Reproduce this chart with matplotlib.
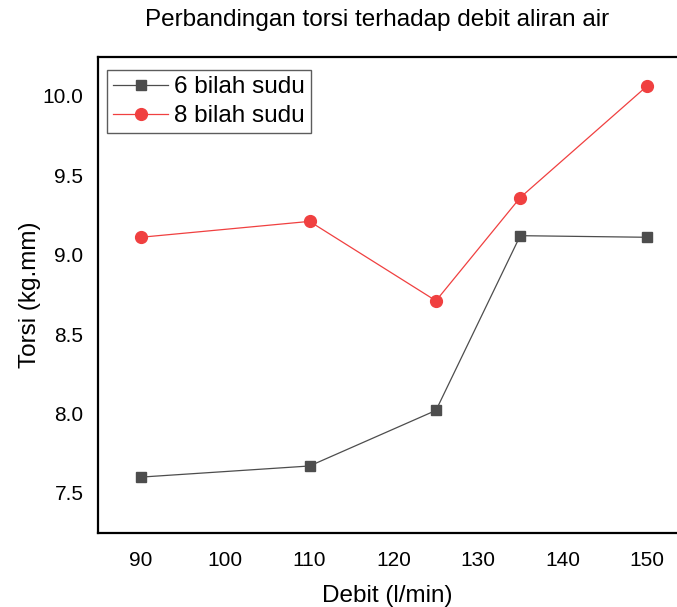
import matplotlib
matplotlib.use("Agg")
import matplotlib.pyplot as plt

debit = [90, 110, 125, 135, 150]
torsi_6 = [7.60, 7.67, 8.02, 9.12, 9.11]
torsi_8 = [9.11, 9.21, 8.71, 9.36, 10.06]
yticks = [7.5, 8.0, 8.5, 9.0, 9.5, 10.0]
xticks = [90, 100, 110, 120, 130, 140, 150]

plt.rcParams['font.family'] = ['Liberation Sans', 'DejaVu Sans']
fig = plt.figure(figsize=(6.77, 6.07), dpi=100)
ax = fig.add_axes([0.1448, 0.1219, 0.8552, 0.7842])

ax.plot(debit, torsi_6, color='#4d4d4d', lw=0.9, marker='s', ms=7, label='6 bilah sudu')
ax.plot(debit, torsi_8, color='#f04040', lw=0.9, marker='o', ms=8.5, label='8 bilah sudu')

ax.set_xlim(84.9, 153.6)
ax.set_ylim(7.248, 10.245)
ax.set_xticks(xticks)
ax.set_yticks(yticks)
ax.set_yticklabels([f"{v:.1f}" for v in yticks])
ax.tick_params(length=0, labelsize=15)
ax.tick_params(axis='y', pad=10.5)
ax.tick_params(axis='x', pad=13)
ax.spines['right'].set_visible(False)
for s in ['left', 'bottom', 'top']:
    ax.spines[s].set_linewidth(1.6)

ax.set_xlabel('Debit (l/min)', fontsize=17.5, labelpad=10.5)
ax.set_ylabel('Torsi (kg.mm)', fontsize=17.5, labelpad=1)
fig.text(0.5576, 0.967, 'Perbandingan torsi terhadap debit aliran air',
         fontsize=17.5, ha='center', va='center')

leg = ax.legend(loc='upper left', bbox_to_anchor=(0.0155, 0.9727), borderaxespad=0,
                fontsize=17.5, frameon=True, fancybox=False,
                edgecolor='#333333', handlelength=2.26, borderpad=0.25,
                labelspacing=0.3, handletextpad=0.25)
leg.get_frame().set_linewidth(1.0)

fig.savefig('out.png', dpi=100)
